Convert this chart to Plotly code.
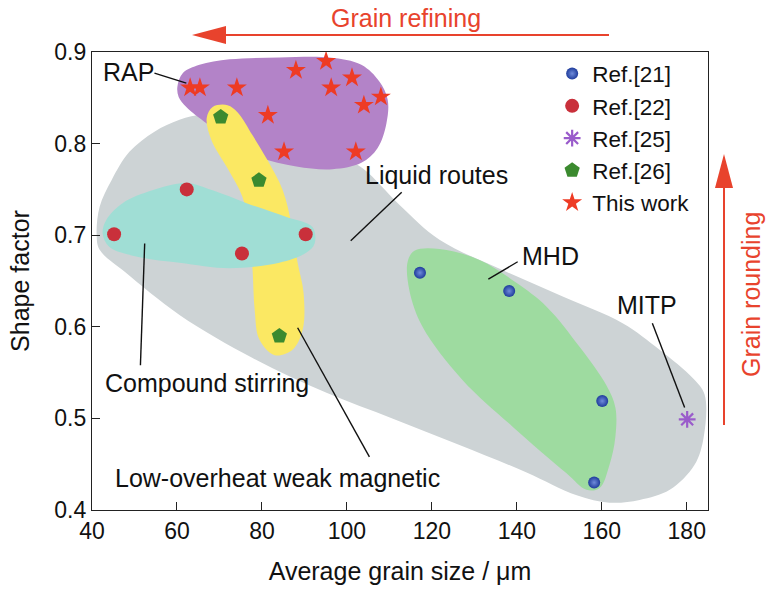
import plotly.graph_objects as go

# ---------------- data ----------------
ref21_x = [117.2, 138.2, 160.1, 158.2]
ref21_y = [0.659, 0.639, 0.519, 0.430]

ref22_x = [45.2, 62.3, 75.3, 90.3]
ref22_y = [0.701, 0.750, 0.680, 0.701]

ref25_x = [180.1]
ref25_y = [0.499]

ref26_x = [70.3, 79.3, 84.1]
ref26_y = [0.829, 0.760, 0.590]

work_x = [63.1, 65.4, 74.1, 88.0, 95.1, 96.3, 101.2, 104.0, 108.0, 81.4, 85.2, 102.1]
work_y = [0.861, 0.861, 0.861, 0.880, 0.890, 0.861, 0.872, 0.842, 0.851, 0.831, 0.791, 0.791]

# region outlines (grain size, shape factor)
liquid_x = [41.1, 41.8, 44.6, 48.8, 54.7, 60.6, 66.5, 79.4, 95.9, 103.7, 112.4, 121.8, 136.6, 150.8,
            164.9, 173.6, 181.4, 184.2, 184.0, 181.8, 176.0, 168.9, 161.8, 154.1, 142.3, 126.5,
            110.7, 95.2, 77.8, 60.6, 47.7, 41.8]
liquid_y = [0.700, 0.731, 0.760, 0.791, 0.813, 0.826, 0.832, 0.831, 0.793, 0.773, 0.733, 0.695, 0.662, 0.633,
            0.604, 0.575, 0.544, 0.526, 0.480, 0.449, 0.422, 0.411, 0.408, 0.416, 0.441, 0.471,
            0.500, 0.528, 0.566, 0.613, 0.660, 0.684]

rap_x = [60.1, 61.4, 65.3, 72.4, 84.1, 95.9, 103.4, 107.6, 109.6, 109.3, 107.2, 103.4, 96.6, 88.1,
         79.4, 72.4, 67.0, 62.2, 60.4]
rap_y = [0.862, 0.877, 0.886, 0.892, 0.894, 0.894, 0.886, 0.868, 0.848, 0.822, 0.795, 0.779, 0.772, 0.775,
         0.785, 0.804, 0.822, 0.840, 0.851]

weak_x = [68.4, 67.0, 68.1, 71.9, 75.4, 77.1, 77.8, 78.3, 79.4, 83.0, 87.2, 89.6, 89.8, 88.4, 87.0,
          84.9, 81.3, 77.8, 74.3, 71.9]
weak_y = [0.840, 0.828, 0.804, 0.773, 0.742, 0.706, 0.662, 0.618, 0.586, 0.569, 0.575, 0.597, 0.637, 0.670, 0.711,
          0.749, 0.782, 0.809, 0.834, 0.842]

stir_x = [42.5, 43.4, 47.2, 54.2, 62.2, 68.4, 76.4, 85.8, 91.9, 92.4, 90.5, 84.1, 72.4, 60.6, 51.2, 44.1]
stir_y = [0.702, 0.717, 0.735, 0.749, 0.757, 0.749, 0.735, 0.720, 0.709, 0.691, 0.681, 0.670, 0.664, 0.670, 0.676, 0.687]

mhd_x = [114.3, 114.7, 117.8, 127.2, 139.0, 151.7, 156.4, 159.5, 161.8, 163.2, 163.2, 161.1, 154.8, 147.0,
         139.9, 131.2, 121.8, 115.9]
mhd_y = [0.671, 0.640, 0.600, 0.542, 0.491, 0.440, 0.422, 0.424, 0.449, 0.480, 0.512, 0.536, 0.578, 0.622,
         0.648, 0.673, 0.685, 0.683]

# labels: text, text position, leader line start, leader line end
label_text = ["RAP", "Liquid routes", "MHD", "MITP", "Compound stirring", "Low-overheat weak magnetic"]
label_x = [48.6, 121.1, 148.0, 170.7, 67.0, 83.7]
label_y = [0.878, 0.766, 0.677, 0.624, 0.539, 0.435]
lead_x0 = [54.7, 112.9, 140.2, 171.9, 52.4, 88.4]
lead_y0 = [0.877, 0.747, 0.671, 0.604, 0.691, 0.599]
lead_x1 = [62.2, 100.9, 133.3, 179.5, 51.4, 105.3]
lead_y1 = [0.866, 0.694, 0.652, 0.512, 0.558, 0.458]

x_ticks = [40, 60, 80, 100, 120, 140, 160, 180]
y_ticks = [0.4, 0.5, 0.6, 0.7, 0.8, 0.9]

FONT = "Liberation Sans, Arial, sans-serif"
RED = "#E8432D"
INK = "#111111"

fig = go.Figure()

def region(xs, ys, color):
    fig.add_trace(go.Scatter(x=xs + xs[:1], y=ys + ys[:1], mode="lines", fill="toself",
                             fillcolor=color, line=dict(width=0, shape="spline", smoothing=1.0),
                             hoverinfo="skip", showlegend=False))

region(liquid_x, liquid_y, "#CDD3D5")
region(rap_x, rap_y, "#B383C8")
region(weak_x, weak_y, "#FBE863")
region(stir_x, stir_y, "#A0DED5")
region(mhd_x, mhd_y, "#9EDBA0")

fig.add_trace(go.Scatter(x=ref21_x, y=ref21_y, mode="markers", name="Ref.[21]",
                         marker=dict(symbol="circle", size=12, color="#1F3C9C",
                                     gradient=dict(type="radial", color="#6F8BDA"),
                                     line=dict(width=0))))
fig.add_trace(go.Scatter(x=ref22_x, y=ref22_y, mode="markers", name="Ref.[22]",
                         marker=dict(symbol="circle", size=14, color="#C9303B", line=dict(width=0))))
fig.add_trace(go.Scatter(x=ref25_x, y=ref25_y, mode="markers", name="Ref.[25]",
                         marker=dict(symbol="asterisk-open", size=14, color="#9A5CCB",
                                     line=dict(width=2.2, color="#9A5CCB"))))
fig.add_trace(go.Scatter(x=ref26_x, y=ref26_y, mode="markers", name="Ref.[26]",
                         marker=dict(symbol="pentagon", size=16, color="#3B8A2F", line=dict(width=0))))
fig.add_trace(go.Scatter(x=work_x, y=work_y, mode="markers", name="This work",
                         marker=dict(symbol="star", size=15, color="#EE3B24", line=dict(width=0))))

shapes = []
annotations = []
for t, tx, ty, x0, y0, x1, y1 in zip(label_text, label_x, label_y, lead_x0, lead_y0, lead_x1, lead_y1):
    shapes.append(dict(type="line", xref="x", yref="y", x0=x0, y0=y0, x1=x1, y1=y1,
                       line=dict(color=INK, width=1.4)))
    annotations.append(dict(text=t, x=tx, y=ty, xref="x", yref="y", showarrow=False,
                            xanchor="center", yanchor="middle",
                            font=dict(family=FONT, size=25, color=INK)))

# outer arrows (paper coordinates; plot area spans 616 x 458 px, from (92, 52))
def px2paper_x(px):
    return (px - 92) / 616.0

def px2paper_y(py):
    return (510 - py) / 458.0

# horizontal "Grain refining" arrow
shapes.append(dict(type="line", xref="paper", yref="paper",
                   x0=px2paper_x(609), y0=px2paper_y(35), x1=px2paper_x(222), y1=px2paper_y(35),
                   line=dict(color=RED, width=2)))
shapes.append(dict(type="path", xref="paper", yref="paper", fillcolor=RED, line=dict(width=0),
                   path="M {a},{b} L {c},{d} L {e},{f} Z".format(
                       a=px2paper_x(192), b=px2paper_y(35), c=px2paper_x(226), d=px2paper_y(26),
                       e=px2paper_x(226), f=px2paper_y(44))))
annotations.append(dict(text="Grain refining", x=px2paper_x(406), y=px2paper_y(18), xref="paper",
                        yref="paper", showarrow=False, xanchor="center", yanchor="middle",
                        font=dict(family=FONT, size=25, color=RED)))

# vertical "Grain rounding" arrow
shapes.append(dict(type="line", xref="paper", yref="paper",
                   x0=px2paper_x(724), y0=px2paper_y(425), x1=px2paper_x(724), y1=px2paper_y(180),
                   line=dict(color=RED, width=2)))
shapes.append(dict(type="path", xref="paper", yref="paper", fillcolor=RED, line=dict(width=0),
                   path="M {a},{b} L {c},{d} L {e},{f} Z".format(
                       a=px2paper_x(724), b=px2paper_y(154), c=px2paper_x(715), d=px2paper_y(188),
                       e=px2paper_x(733), f=px2paper_y(188))))
annotations.append(dict(text="Grain rounding", x=px2paper_x(751), y=px2paper_y(295), xref="paper",
                        yref="paper", showarrow=False, textangle=-90, xanchor="center", yanchor="middle",
                        font=dict(family=FONT, size=25, color=RED)))

fig.update_layout(
    width=768, height=595,
    margin=dict(l=92, r=60, t=52, b=85, autoexpand=False),
    paper_bgcolor="white", plot_bgcolor="white",
    font=dict(family=FONT, size=23, color=INK),
    showlegend=True,
    legend=dict(x=0.747, y=0.999, xanchor="left", yanchor="top", bgcolor="rgba(0,0,0,0)",
                font=dict(family=FONT, size=22.5, color=INK), tracegroupgap=0, itemwidth=30),
    shapes=shapes, annotations=annotations,
)
fig.update_xaxes(range=[40, 185], tickvals=x_ticks, ticks="inside", ticklen=8, tickwidth=1.3,
                 tickcolor="#222", showline=True, linecolor="#222", linewidth=1.3, mirror=True,
                 showgrid=False, zeroline=False, automargin=False,
                 tickfont=dict(family=FONT, size=23, color=INK),
                 title=dict(text="Average grain size / μm", font=dict(family=FONT, size=25, color=INK),
                            standoff=19))
fig.update_yaxes(range=[0.4, 0.9], tickvals=y_ticks, tickformat=".1f", ticks="inside", ticklen=8,
                 tickwidth=1.3, tickcolor="#222", showline=True, linecolor="#222", linewidth=1.3,
                 mirror=True, showgrid=False, zeroline=False, automargin=False,
                 tickfont=dict(family=FONT, size=23, color=INK),
                 title=dict(text="Shape factor", font=dict(family=FONT, size=25, color=INK),
                            standoff=17))

fig.write_html("out.html", config={"displayModeBar": False},
               post_script="document.body.style.margin='0';document.body.style.overflow='hidden';")
